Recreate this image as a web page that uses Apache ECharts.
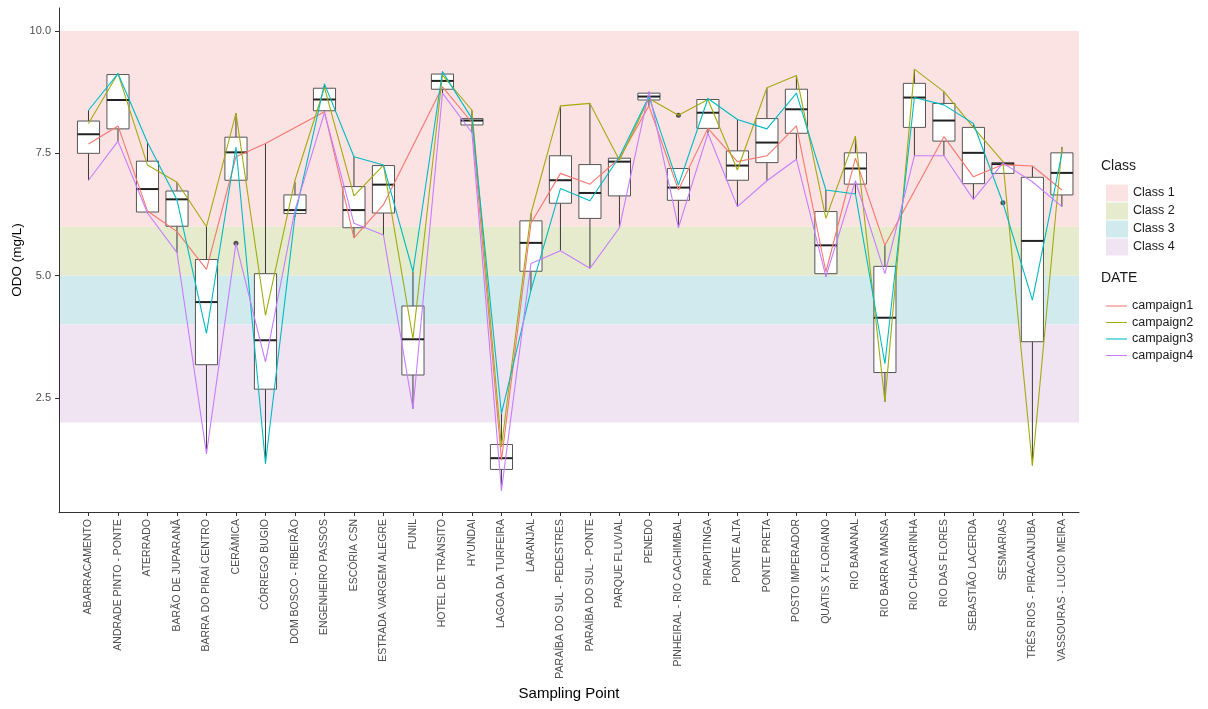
<!DOCTYPE html>
<html><head><meta charset="utf-8">
<script src="https://cdn.jsdelivr.net/npm/echarts@6/dist/echarts.min.js"></script>
<style>html,body{margin:0;padding:0;background:#fff}#c{width:1208px;height:709px}</style>
</head><body><div id="c"></div>
<script>
const categories = ['ABARRACAMENTO','ANDRADE PINTO - PONTE','ATERRADO','BARÃO DE JUPARANÃ','BARRA DO PIRAÍ CENTRO','CERÂMICA','CÓRREGO BUGIO','DOM BOSCO - RIBEIRÃO','ENGENHEIRO PASSOS','ESCÓRIA CSN','ESTRADA VARGEM ALEGRE','FUNIL','HOTEL DE TRÂNSITO','HYUNDAI','LAGOA DA TURFEIRA','LARANJAL','PARAÍBA DO SUL - PEDESTRES','PARAÍBA DO SUL - PONTE','PARQUE FLUVIAL','PENEDO','PINHEIRAL - RIO CACHIMBAL','PIRAPITINGA','PONTE ALTA','PONTE PRETA','POSTO IMPERADOR','QUATIS X FLORIANO','RIO BANANAL','RIO BARRA MANSA','RIO CHACARINHA','RIO DAS FLORES','SEBASTIÃO LACERDA','SESMARIAS','TRÊS RIOS - PIRACANJUBA','VASSOURAS - LUCIO MEIRA'];
const campaign1 = [7.69,8.06,6.32,5.90,5.13,7.43,7.70,null,8.35,5.77,6.45,null,8.86,8.13,1.23,6.07,7.09,6.87,7.40,8.47,6.75,8.01,7.33,7.45,8.06,5.08,7.40,5.62,null,7.84,7.02,7.27,7.24,6.75];
const campaign2 = [8.11,9.13,7.26,6.91,6.00,8.32,4.19,6.95,8.85,6.63,7.26,3.71,9.10,8.38,1.50,6.27,8.47,8.52,7.36,8.62,8.28,8.60,7.16,8.84,9.09,6.17,7.85,2.42,9.22,8.76,8.03,7.33,1.12,7.62];
const campaign3 = [8.38,9.13,7.72,6.55,3.82,7.63,1.16,6.22,8.92,7.43,7.26,5.08,9.17,8.21,2.18,4.70,6.78,6.53,7.43,8.66,6.85,8.62,8.19,8.00,8.73,6.75,6.67,3.20,8.64,8.49,8.11,6.49,4.50,7.50];
const campaign4 = [6.95,7.75,6.28,5.47,1.36,5.66,3.24,6.34,8.33,6.07,5.83,2.28,8.73,7.92,0.61,5.25,5.51,5.15,5.98,8.76,5.98,7.91,6.41,6.94,7.38,4.98,6.94,5.04,7.45,7.45,6.56,7.30,6.92,6.41];
const boxMin    = [6.95,7.75,6.28,5.47,1.36,6.95,1.16,6.20,8.35,5.77,5.83,2.28,8.73,7.92,0.61,4.70,5.51,5.15,5.98,8.47,5.98,7.91,6.41,6.94,7.38,4.98,6.67,2.42,7.45,7.45,6.56,7.09,1.12,6.41];
const boxQ1     = [7.50,8.00,6.30,6.01,3.18,6.95,2.68,6.27,8.37,5.98,6.28,2.97,8.81,8.08,1.04,5.09,6.48,6.17,6.63,8.59,6.54,8.01,6.95,7.31,7.91,5.04,6.87,3.02,8.03,7.75,6.88,7.09,3.65,6.65];
const boxMedian = [7.89,8.59,6.77,6.56,4.46,7.52,3.68,6.34,8.60,6.34,6.86,3.70,8.98,8.17,1.27,5.67,6.95,6.69,7.33,8.66,6.80,8.33,7.25,7.72,8.40,5.62,7.19,4.14,8.64,8.17,7.51,7.28,5.71,7.10];
const boxQ3     = [8.16,9.11,7.34,6.73,5.33,7.83,5.04,6.65,8.83,6.82,7.25,4.38,9.12,8.21,1.55,6.12,7.45,7.27,7.40,8.73,7.19,8.60,7.55,8.21,8.81,6.31,7.51,5.19,8.93,8.52,8.03,7.31,7.01,7.51];
const boxMax    = [8.38,9.13,7.72,6.91,6.00,8.32,7.70,6.92,8.92,7.43,7.26,5.08,9.17,8.38,2.18,6.27,8.47,8.52,7.43,8.76,7.19,8.62,8.18,8.84,9.09,6.75,7.85,5.62,9.22,8.76,8.08,7.33,7.24,7.63];
const outlierIndex = [5,20,31];
const outlierValue = [5.66,8.28,6.49];
const classNames = ['Class 1','Class 2','Class 3','Class 4'];
const classLow = [6,5,4,2];
const classHigh = [10,6,5,4];
const campaignNames = ['campaign1','campaign2','campaign3','campaign4'];
const yTicks = [2.5,5,7.5,10];

const bandColors = ['#FBE3E3','#E5EBCC','#D1EAEE','#F0E3F2'];
const lineColors = ['#F8766D','#A3AA10','#00BAC2','#C77CFF'];
const FONT = 'Liberation Sans, Arial, sans-serif';
const campaigns = [campaign1,campaign2,campaign3,campaign4];
const catIdx = categories.map((_, i) => i);

const chart = echarts.init(document.getElementById('c'), null, {renderer:'canvas'});

const series = [];
classNames.forEach((nm, k) => {
  series.push({
    name: nm, type: 'custom', z: 1, silent: true,
    itemStyle: {color: bandColors[k]},
    encode: {x: 0, y: [1, 2]},
    data: [[0, classLow[k], classHigh[k]]],
    renderItem: function (params, api) {
      const cs = params.coordSys;
      const yTop = api.coord([0, api.value(2)])[1];
      const yBot = api.coord([0, api.value(1)])[1];
      return {type: 'rect', shape: {x: cs.x, y: yTop, width: cs.width, height: yBot - yTop},
              style: {fill: bandColors[k]}};
    }
  });
});
series.push({
  name: 'box', type: 'custom', z: 2, silent: true,
  encode: {x: 0, y: [1, 2, 3, 4, 5]},
  data: catIdx.map(i => [i, boxMin[i], boxQ1[i], boxMedian[i], boxQ3[i], boxMax[i]]),
  renderItem: function (params, api) {
    const x = api.value(0);
    const pMin = api.coord([x, api.value(1)]);
    const pQ1 = api.coord([x, api.value(2)]);
    const pMed = api.coord([x, api.value(3)]);
    const pQ3 = api.coord([x, api.value(4)]);
    const pMax = api.coord([x, api.value(5)]);
    const half = api.size([1, 0])[0] * 0.375;
    const cx = pMed[0];
    return {type: 'group', children: [
      {type: 'line', shape: {x1: cx, y1: pQ3[1], x2: cx, y2: pMax[1]}, style: {stroke: '#3a3a3a', lineWidth: 1}},
      {type: 'line', shape: {x1: cx, y1: pQ1[1], x2: cx, y2: pMin[1]}, style: {stroke: '#3a3a3a', lineWidth: 1}},
      {type: 'rect', shape: {x: cx - half, y: pQ3[1], width: 2 * half, height: pQ1[1] - pQ3[1]}, style: {fill: '#ffffff', stroke: '#555555', lineWidth: 1}},
      {type: 'line', shape: {x1: cx - half, y1: pMed[1], x2: cx + half, y2: pMed[1]}, style: {stroke: '#222222', lineWidth: 2}}
    ]};
  }
});
series.push({
  name: 'outliers', type: 'scatter', z: 3, symbolSize: 5, silent: true,
  itemStyle: {color: '#2a2a2a'},
  data: outlierIndex.map((i, k) => [i, outlierValue[k]])
});
campaigns.forEach((arr, k) => {
  series.push({
    name: campaignNames[k], type: 'line', z: 4, symbol: 'none', showSymbol: false,
    connectNulls: true, silent: true,
    lineStyle: {color: lineColors[k], width: 1.1},
    itemStyle: {color: lineColors[k]},
    data: catIdx.map(i => [i, arr[i] == null ? '-' : arr[i]])
  });
});

chart.setOption({
  animation: false,
  backgroundColor: '#ffffff',
  grid: {left: 59, right: 129, top: 8, bottom: 197, containLabel: false, outerBoundsMode: 'none'},
  xAxis: {
    type: 'value', min: -1, max: 33.58, z: 10,
    name: 'Sampling Point', nameLocation: 'middle', nameGap: 174, nameMoveOverlap: false,
    nameTextStyle: {fontSize: 15, color: '#000', fontFamily: FONT},
    axisLine: {show: true, onZero: false, lineStyle: {color: '#333', width: 1}},
    axisTick: {show: true, length: 4, customValues: catIdx, lineStyle: {color: '#333'}},
    axisLabel: {customValues: catIdx, formatter: v => categories[Math.round(v)] || '', rotate: 90,
                fontSize: 10.5, color: '#4d4d4d', margin: 7, fontFamily: FONT},
    splitLine: {show: false}
  },
  yAxis: {
    type: 'value', min: 0.17, max: 10.47, z: 10,
    axisLine: {show: true, onZero: false, lineStyle: {color: '#333', width: 1}},
    axisTick: {show: true, length: 4, customValues: yTicks, lineStyle: {color: '#333'}},
    axisLabel: {customValues: yTicks, formatter: v => Number(v).toFixed(1), fontSize: 11,
                color: '#4d4d4d', margin: 8, fontFamily: FONT},
    splitLine: {show: false}
  },
  legend: [
    {data: classNames, orient: 'vertical', left: 1101, top: 179.5, icon: 'rect',
     itemWidth: 22, itemHeight: 17, itemGap: 1, selectedMode: false,
     textStyle: {fontSize: 12.5, color: '#1a1a1a', fontFamily: FONT}},
    {data: campaignNames, orient: 'vertical', left: 1101, top: 294.5,
     icon: 'path://M0,0L20,0L20,1L0,1Z', symbolKeepAspect: true,
     itemWidth: 21, itemHeight: 14, itemGap: 3.5, selectedMode: false,
     textStyle: {fontSize: 12.5, color: '#1a1a1a', fontFamily: FONT}}
  ],
  graphic: [
    {type: 'text', x: 17, y: 260, rotation: Math.PI / 2,
     style: {text: 'ODO (mg/L)', fontSize: 13.5, fill: '#000', fontFamily: FONT, align: 'center', verticalAlign: 'middle'}},
    {type: 'text', left: 1101, top: 159, style: {text: 'Class', fontSize: 14, fill: '#1a1a1a', fontFamily: FONT}},
    {type: 'text', left: 1101, top: 271, style: {text: 'DATE', fontSize: 14, fill: '#1a1a1a', fontFamily: FONT}}
  ],
  series: series
});
</script></body></html>
